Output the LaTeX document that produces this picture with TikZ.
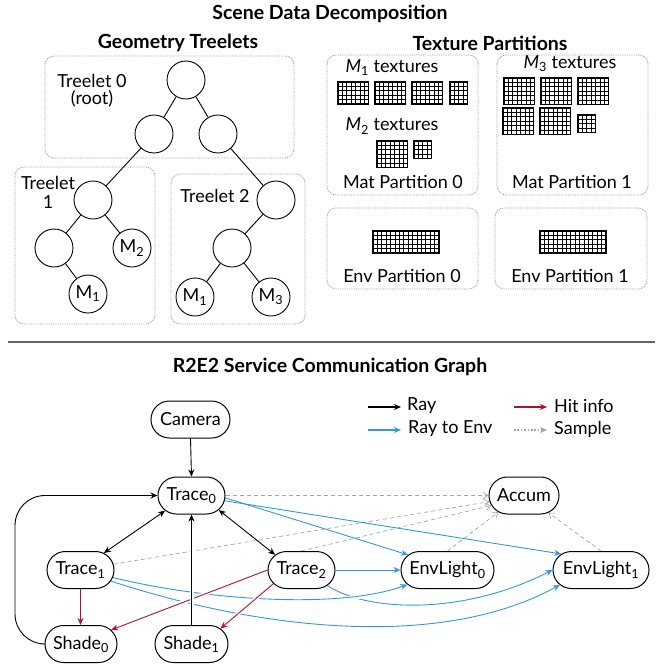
\documentclass[tikz,border=0pt]{standalone}
\usepackage{fontspec}
\setmainfont{Lato}
\usetikzlibrary{arrows.meta,shapes.misc,calc,backgrounds}
\definecolor{raybl}{RGB}{52,152,219}
\definecolor{hitred}{RGB}{178,18,42}
\definecolor{smpgray}{RGB}{165,165,165}
\definecolor{boxgray}{RGB}{150,150,150}
\newcommand{\texgrid}[4]{%
  \foreach \gi in {0,...,#3} {\draw[gridln] ({#1+\gi*4.4},#2) -- ({#1+\gi*4.4},{#2+#4*4.4});}
  \foreach \gj in {0,...,#4} {\draw[gridln] (#1,{#2+\gj*4.4}) -- ({#1+#3*4.4},{#2+\gj*4.4});}
  \draw[gridln, line width=1.3pt] (#1,#2) rectangle ({#1+#3*4.4},{#2+#4*4.4});
}
\begin{document}
\begin{tikzpicture}[x=1pt,y=-1pt,
  font=\fontsize{18}{20}\selectfont,
  title/.style={font=\fontsize{19.5}{22}\selectfont\bfseries},
  pbox/.style={draw=boxgray, densely dotted, line width=0.8pt, rounded corners=9pt},
  tnode/.style={circle, draw, line width=0.9pt, minimum size=38pt, inner sep=0pt},
  tedge/.style={line width=0.9pt},
  gridln/.style={line width=0.9pt, black},
  svc/.style={rounded rectangle, draw, line width=1pt, minimum height=37pt, inner xsep=3pt, fill=white},
  ray/.style={line width=0.9pt, -{Stealth[length=7pt,width=6pt]}},
  rayenv/.style={line width=0.9pt, draw=raybl, -{Stealth[length=7pt,width=6pt]}},
  hit/.style={line width=0.9pt, draw=hitred, -{Stealth[length=7pt,width=6pt]}},
  smp/.style={line width=0.7pt, draw=smpgray, dash pattern=on 4pt off 3pt, -{Straight Barb[length=5pt,width=7pt]}},
  gap/.style={preaction={draw=white, line width=4pt, -, #1}},
  gap/.default={}
]
\useasboundingbox (0,0) rectangle (659,664);

% ---------- Scene data decomposition ----------
\node[title] (t-scene) at (330,14) {Scene Data Decomposition};
\node[title] (t-geo) at (178,43) {Geometry Treelets};
\node[title] (t-tex) at (490,43) {Texture Partitions};

% treelet boxes
\draw[pbox] (45,56) rectangle (294,158);
\draw[pbox] (15,167) rectangle (155,324);
\draw[pbox] (171,174) rectangle (305,324);

\node (lbl-t0) at (92,81) {Treelet 0};
\node (lbl-t0b) at (92,99) {(root)};
\node (lbl-t1) at (48,183) {Treelet};
\node (lbl-t1b) at (48,202) {1};
\node (lbl-t2) at (215,196) {Treelet 2};

\node[tnode] (root) at (186,80) {};
\node[tnode] (l1) at (154,134) {};
\node[tnode] (r1) at (218,134) {};
\node[tnode] (a) at (93,200) {};
\node[tnode] (al) at (54,248) {};
\node[tnode] (am2) at (132,248) {M\textsubscript{2}};
\node[tnode] (am1) at (88,294) {M\textsubscript{1}};
\node[tnode] (b) at (276,200) {};
\node[tnode] (bm) at (232,248) {};
\node[tnode] (bm1) at (195,297) {M\textsubscript{1}};
\node[tnode] (bm3) at (271,297) {M\textsubscript{3}};

\draw[tedge] (root) -- (l1);
\draw[tedge] (root) -- (r1);
\draw[tedge] (l1) -- (a);
\draw[tedge] (r1) -- (b);
\draw[tedge] (a) -- (al);
\draw[tedge] (a) -- (am2);
\draw[tedge] (al) -- (am1);
\draw[tedge] (b) -- (bm);
\draw[tedge] (bm) -- (bm1);
\draw[tedge] (bm) -- (bm3);

% texture partitions
\draw[pbox] (327,55) rectangle (478,195);
\draw[pbox] (497,55) rectangle (648,195);
\draw[pbox] (327,208) rectangle (478,289);
\draw[pbox] (495,208) rectangle (647,289);

\node (lbl-m1) at (392,68) {\textit{M}\textsubscript{1} textures};
\texgrid{338}{82}{7}{5}
\texgrid{375}{82}{7}{5}
\texgrid{412}{82}{7}{5}
\texgrid{450}{82}{4}{5}
\node (lbl-m2) at (392,126) {\textit{M}\textsubscript{2} textures};
\texgrid{377}{141}{7}{6}
\texgrid{414}{141}{4}{4}
\node (lbl-mp0) at (403,182) {Mat Partition 0};

\node (lbl-m3) at (570,64) {\textit{M}\textsubscript{3} textures};
\texgrid{504}{78}{7}{6}
\texgrid{541}{78}{7}{6}
\texgrid{578}{78}{7}{6}
\texgrid{503}{108}{7}{6}
\texgrid{540}{108}{7}{6}
\texgrid{578}{115}{4}{4}
\node (lbl-mp1) at (572,182) {Mat Partition 1};

\texgrid{373}{231}{15}{5}
\node (lbl-ep0) at (402,276) {Env Partition 0};
\texgrid{540}{231}{15}{5}
\node (lbl-ep1) at (570,276) {Env Partition 1};

% separator
\draw[line width=1.6pt, black!60] (8,342) -- (655,342);

% ---------- R2E2 graph ----------
\node[title] (t-r2e2) at (330,367) {R2E2 Service Communication Graph};

% legend
\coordinate (lg1a) at (368,407); \coordinate (lg1b) at (401,407);
\coordinate (lg2a) at (368,430); \coordinate (lg2b) at (401,430);
\coordinate (lg3a) at (514,407); \coordinate (lg3b) at (547,407);
\coordinate (lg4a) at (514,430); \coordinate (lg4b) at (547,430);
\draw[ray, line width=1.3pt] (lg1a) -- (lg1b);
\draw[rayenv, line width=1.3pt] (lg2a) -- (lg2b);
\draw[hit, line width=1.3pt] (lg3a) -- (lg3b);
\draw[line width=1.6pt, draw=smpgray, dash pattern=on 1.6pt off 1.8pt, -{Stealth[length=7pt,width=6pt]}] (lg4a) -- (lg4b);
\node[anchor=west, inner sep=0pt] (lg1t) at (407,406) {Ray};
\node[anchor=west, inner sep=0pt] (lg2t) at (408,429) {Ray to Env};
\node[anchor=west, inner sep=0pt] (lg3t) at (554,406) {Hit info};
\node[anchor=west, inner sep=0pt] (lg4t) at (554,429) {Sample};

% service nodes
\node[svc, minimum width=85pt] (cam) at (190.5,419.5) {Camera};
\node[svc, minimum width=73pt] (t0) at (191.5,495.5) {Trace\textsubscript{0}};
\node[svc, minimum width=73pt] (t1) at (80.5,570) {Trace\textsubscript{1}};
\node[svc, minimum width=73pt] (t2) at (301.5,570) {Trace\textsubscript{2}};
\node[svc, minimum width=78pt] (s0) at (81,644) {Shade\textsubscript{0}};
\node[svc, minimum width=79pt] (s1) at (191.5,644) {Shade\textsubscript{1}};
\node[svc, minimum width=99pt] (el0) at (447.5,570) {EnvLight\textsubscript{0}};
\node[svc, minimum width=102pt] (el1) at (601,570) {EnvLight\textsubscript{1}};
\node[svc, minimum width=76pt] (acc) at (524,495.5) {Accum};

\begin{scope}[on background layer]
% samples
\draw[smp] (t0.east) -- (acc.west);
\draw[smp] (t1.10) -- (acc.-170);
\draw[smp] (t2.north) -- (acc.-163);
\draw[smp] (el0.north) -- (acc.-147);
\draw[smp] (el1.north) -- (acc.-35);
% rays to env
\draw[rayenv] (t0.-4) -- (el0.159);
\draw[rayenv] (t0.-9) -- (el1.158);
\draw[rayenv] (t2.east) -- (el0.west);
\draw[rayenv] (t2.-31) .. controls +(39,26) and +(-90,46) .. (el1.west);
\draw[rayenv] (t1.-20) .. controls +(134,44) and +(-127,69) .. (el1.-160);
\draw[rayenv, gap={shorten <=60pt, shorten >=10pt}] (t1.-13) .. controls +(84,21) and +(-72,26) .. (el0.-160);
% hits
\draw[hit, gap={shorten <=8pt}] (t2.west) -- (s0.25);
\draw[hit, gap={shorten <=8pt}] (t2.-154) -- (s1.28);
\draw[hit] (t1.south) -- (t1.south |- s0.north);
% rays
\draw[ray, gap={shorten <=8pt}] (s1.north) -- (t0.south);
\draw[ray] (cam.south) -- (t0.north);
\draw[ray, rounded corners=30pt] (s0.west) -- (15,644) -- (15,495.5) -- (t0.west);
\draw[line width=0.9pt, {Stealth[length=7pt,width=6pt]}-{Stealth[length=7pt,width=6pt]}] (t0.-150) -- (t1.36);
\draw[line width=0.9pt, {Stealth[length=7pt,width=6pt]}-{Stealth[length=7pt,width=6pt]}] (t0.-28) -- (t2.150);
\end{scope}
\end{tikzpicture}
\end{document}
